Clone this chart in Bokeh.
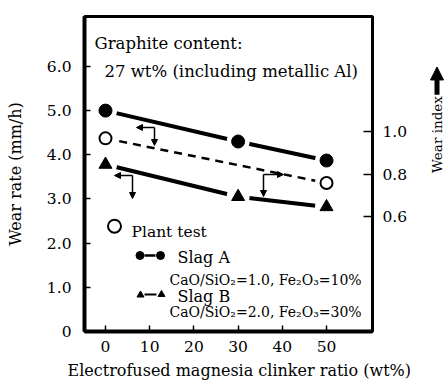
import math
from bokeh.plotting import figure
from bokeh.layouts import row
from bokeh.models import (Range1d, LinearAxis, FixedTicker, Label, Arrow, Title,
                          NormalHead, PrintfTickFormatter)
from bokeh.embed import file_html
from bokeh.resources import INLINE

# ---------------- data ----------------
clinker_ratio = [0, 30, 50]
slag_a_rate = [5.0, 4.3, 3.87]
slag_b_rate = [3.78, 3.05, 2.82]
plant_ratio = [0, 50]
plant_wear_index = [0.97, 0.76]

x_ticks = [0, 10, 20, 30, 40, 50]
rate_ticks = [0, 1, 2, 3, 4, 5, 6]
wear_ticks = [0.6, 0.8, 1.0]

FONT = "DejaVu Serif"
W, H = 446, 387
W_MAIN = 420

# main figure: frame at x 84..372, y 16..331 (page pixels)
p = figure(width=W_MAIN, height=H, output_backend="svg", toolbar_location=None,
           x_range=Range1d(-4.75, 60.4), y_range=Range1d(0, 7.13),
           min_border_left=84, min_border_right=W_MAIN - 372, min_border_top=16,
           min_border_bottom=H - 331)
p.extra_y_ranges = {"wear": Range1d(0.061, 1.5435), "py": Range1d(331, 16)}
p.extra_x_ranges = {"px": Range1d(84, 372)}

p.grid.grid_line_color = None
p.background_fill_color = "white"
p.border_fill_color = "white"
p.outline_line_color = "black"
p.outline_line_width = 3

def style_axis(ax, size="15.5px"):
    ax.minor_tick_line_color = None
    ax.major_tick_out = 0
    ax.major_tick_line_width = 1.5
    ax.major_tick_line_color = "black"
    ax.axis_line_color = "black"
    ax.major_label_text_font = FONT
    ax.major_label_text_font_size = size
    ax.major_label_text_color = "black"
    ax.axis_label_text_font = FONT
    ax.axis_label_text_font_size = "16px"
    ax.axis_label_text_font_style = "normal"
    ax.axis_label_text_color = "black"

xa = p.xaxis[0]
style_axis(xa)
xa.ticker = FixedTicker(ticks=x_ticks)
xa.major_tick_in = 6
xa.axis_line_width = 4
xa.major_label_standoff = 9

p.add_layout(Title(text="Electrofused magnesia clinker ratio (wt%)", align="left",
                   offset=-17, standoff=8, text_font=FONT, text_font_size="16px",
                   text_font_style="normal", text_color="black"), "below")

ya = p.yaxis[0]
style_axis(ya)
ya.ticker = FixedTicker(ticks=rate_ticks)
ya.formatter = PrintfTickFormatter(format="%.1f")
ya.major_label_overrides = {0: "0"}
ya.major_tick_in = 6
ya.axis_line_width = 4
ya.major_label_standoff = 13
ya.axis_label = "Wear rate (mm/h)"
ya.axis_label_standoff = 19

ra = LinearAxis(y_range_name="wear", ticker=FixedTicker(ticks=wear_ticks),
                formatter=PrintfTickFormatter(format="%.1f"))
style_axis(ra)
ra.major_tick_in = 9
ra.axis_line_width = 3
ra.major_label_standoff = 10
p.add_layout(ra, "right")

p.line(clinker_ratio, slag_a_rate, line_color="black", line_width=4)
p.line(clinker_ratio, slag_b_rate, line_color="black", line_width=4)
p.line(plant_ratio, plant_wear_index, y_range_name="wear", line_color="black",
       line_width=2.5, line_dash="8 6")

# white halos give the small gaps between lines and markers
p.scatter(clinker_ratio, slag_a_rate, marker="circle", size=23, fill_color="white", line_color=None)
p.scatter(clinker_ratio, slag_b_rate, marker="circle", size=23, fill_color="white", line_color=None)
p.scatter(plant_ratio, plant_wear_index, y_range_name="wear", marker="circle", size=23,
          fill_color="white", line_color=None)

p.scatter(clinker_ratio, slag_a_rate, marker="circle", size=13, fill_color="black", line_color="black")
p.scatter(clinker_ratio, slag_b_rate, marker="triangle", size=13, fill_color="black", line_color="black")
p.scatter(plant_ratio, plant_wear_index, y_range_name="wear", marker="circle", size=12,
          fill_color="white", line_color="black", line_width=2)

def arrow(fig, x0, y0, x1, y1, w=1.5, size=6):
    fig.add_layout(Arrow(end=NormalHead(size=size, fill_color="black", line_color="black"),
                         x_start=x0, y_start=y0, x_end=x1, y_end=y1,
                         line_width=w, line_color="black",
                         x_range_name="px", y_range_name="py"))

arrow(p, 154, 127, 136, 127)
arrow(p, 154, 127, 154, 145)
arrow(p, 132, 175, 114, 175)
arrow(p, 132, 175, 132, 198)
arrow(p, 263, 174, 283, 174)
arrow(p, 263, 174, 263, 196)

def label(fig, x, y, text, size="16.5px", **kw):
    fig.add_layout(Label(x=x, y=y, text=text, x_range_name="px", y_range_name="py",
                         text_font=FONT, text_font_size=size, text_color="black",
                         text_baseline=kw.pop("baseline", "alphabetic"), **kw))

label(p, 94, 43, "Graphite content:")
label(p, 104, 71, "27 wt% (including metallic Al)")

p.scatter([114], [225.7], x_range_name="px", y_range_name="py", marker="circle", size=13,
          fill_color="white", line_color="black", line_width=2)
label(p, 131, 231.7, "Plant test", size="15.5px")

p.line([144, 155], [255, 255], x_range_name="px", y_range_name="py", line_color="black", line_width=2.5)
p.scatter([139.5, 160], [255, 255], x_range_name="px", y_range_name="py", marker="circle",
          size=8, fill_color="black", line_color="black")
label(p, 177, 256.7, "Slag A", size="16px")
label(p, 169, 279, "CaO/SiO\u2082=1.0, Fe\u2082O\u2083=10%", size="14px")

p.line([144, 156], [294, 294], x_range_name="px", y_range_name="py", line_color="black", line_width=2)
p.scatter([140, 161], [294.5, 294], x_range_name="px", y_range_name="py", marker="triangle",
          size=7, fill_color="black", line_color="black")
label(p, 177, 295.7, "Slag B", size="16px")
label(p, 169, 311.7, "CaO/SiO\u2082=2.0, Fe\u2082O\u2083=30%", size="14px")

# narrow side figure holding the "Wear index" title and its arrow
q = figure(width=W - W_MAIN, height=H, output_backend="svg", toolbar_location=None,
           x_axis_type=None, y_axis_type=None,
           x_range=Range1d(W_MAIN, W), y_range=Range1d(H, 0),
           min_border_left=0, min_border_right=0, min_border_top=0, min_border_bottom=0)
q.extra_x_ranges = {"px": Range1d(W_MAIN, W)}
q.extra_y_ranges = {"py": Range1d(H, 0)}
q.grid.grid_line_color = None
q.outline_line_color = None
q.background_fill_color = "white"
q.border_fill_color = "white"

q.add_layout(Arrow(end=NormalHead(size=13, fill_color="black", line_color="black"),
                   x_start=436.5, y_start=96, x_end=436.5, y_end=62, line_width=5,
                   line_color="black", x_range_name="px", y_range_name="py"))
label(q, 436.5, 145, "Wear index", size="13.5px", angle=math.pi / 2,
      text_align="center", baseline="middle")

open("out.html", "w").write(file_html(row(p, q), INLINE))
